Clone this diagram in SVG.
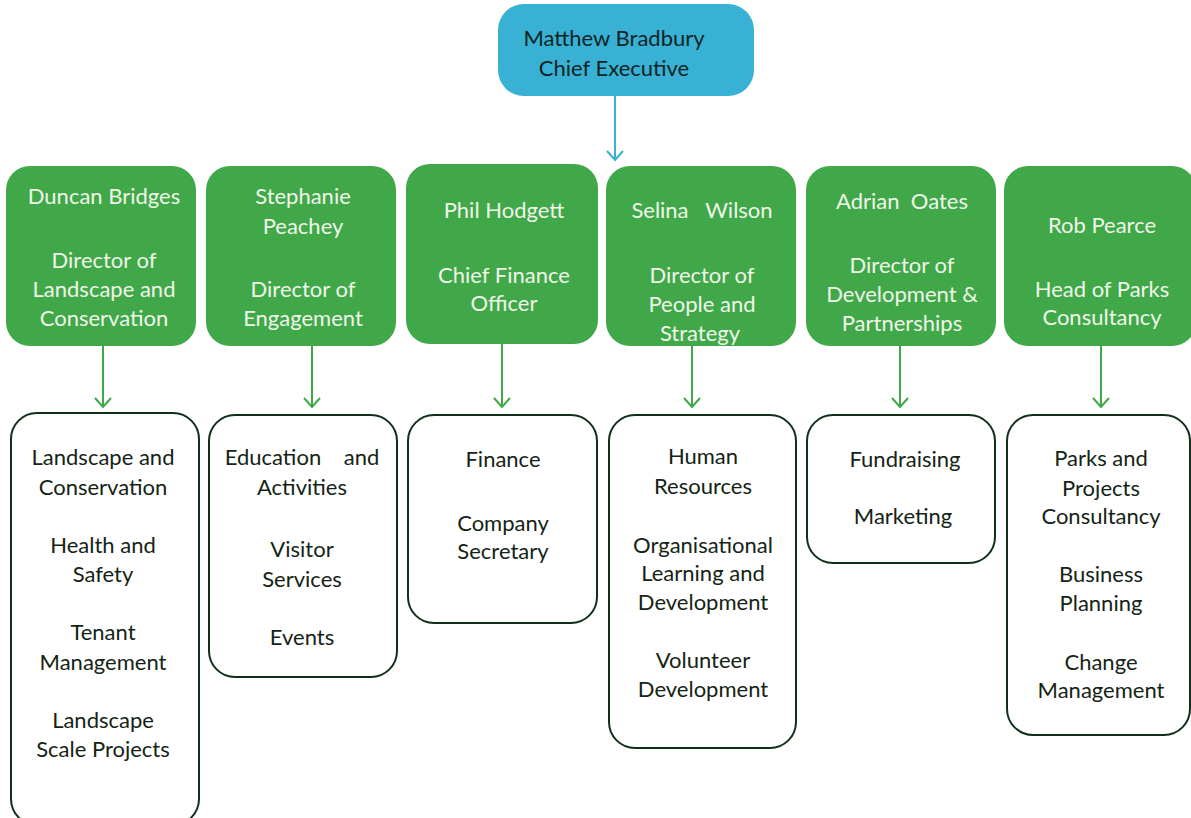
<svg xmlns="http://www.w3.org/2000/svg" width="1191" height="818" viewBox="0 0 1191 818">
<defs>
<style>
.ceo{fill:#38B1D4;}
.dir{fill:#41A84A;}
.unit{fill:#ffffff;stroke:#10301A;stroke-width:2;}
text{font-family:Lato,"Open Sans","Liberation Sans",sans-serif;font-size:22px;text-anchor:middle;}
.dt{fill:#EEF6E8;}
.ct{fill:#0F2424;}
.ut{fill:#142414;}
.gline{stroke:#41A84A;stroke-width:2;fill:none;}
.bline{stroke:#38B1D4;stroke-width:2;fill:none;}
</style>
<marker id="ag" markerWidth="20" markerHeight="12" refX="9" refY="10" markerUnits="userSpaceOnUse" viewBox="0 0 20 12">
<polyline points="1,1 9,10 17,1" fill="none" stroke="#41A84A" stroke-width="2"/>
</marker>
<marker id="ab" markerWidth="20" markerHeight="12" refX="9" refY="10" markerUnits="userSpaceOnUse" viewBox="0 0 20 12">
<polyline points="1,1 9,10 17,1" fill="none" stroke="#38B1D4" stroke-width="2"/>
</marker>
</defs>
<rect width="1191" height="818" fill="#ffffff"/>

<g id="connectors">
<line class="bline" x1="615" y1="96" x2="615" y2="160" marker-end="url(#ab)"/>
<line class="gline" x1="103" y1="346" x2="103" y2="407" marker-end="url(#ag)"/>
<line class="gline" x1="312" y1="346" x2="312" y2="407" marker-end="url(#ag)"/>
<line class="gline" x1="502" y1="344" x2="502" y2="407" marker-end="url(#ag)"/>
<line class="gline" x1="692" y1="346" x2="692" y2="407" marker-end="url(#ag)"/>
<line class="gline" x1="900" y1="346" x2="900" y2="407" marker-end="url(#ag)"/>
<line class="gline" x1="1101" y1="346" x2="1101" y2="407" marker-end="url(#ag)"/>
</g>

<g id="ceo">
<rect class="ceo" x="498" y="4" width="256" height="92" rx="26"/>
<text class="ct" x="614" y="46">Matthew Bradbury</text>
<text class="ct" x="614" y="76">Chief Executive</text>
</g>

<g id="dir-duncan">
<rect class="dir" x="6" y="166" width="190" height="180" rx="24"/>
<text class="dt" x="104" y="204">Duncan Bridges</text>
<text class="dt" x="104" y="268">Director of</text>
<text class="dt" x="104" y="297">Landscape and</text>
<text class="dt" x="104" y="326">Conservation</text>
</g>

<g id="dir-stephanie">
<rect class="dir" x="206" y="166" width="190" height="180" rx="24"/>
<text class="dt" x="303" y="204">Stephanie</text>
<text class="dt" x="303" y="234">Peachey</text>
<text class="dt" x="303" y="297">Director of</text>
<text class="dt" x="303" y="326">Engagement</text>
</g>

<g id="dir-phil">
<rect class="dir" x="406" y="164" width="192" height="180" rx="24"/>
<text class="dt" x="504" y="218">Phil Hodgett</text>
<text class="dt" x="504" y="283">Chief Finance</text>
<text class="dt" x="504" y="311">Officer</text>
</g>

<g id="dir-selina">
<rect class="dir" x="606" y="166" width="190" height="180" rx="24"/>
<text class="dt" x="702" y="218" xml:space="preserve">Selina   Wilson</text>
<text class="dt" x="702" y="283">Director of</text>
<text class="dt" x="702" y="312">People and</text>
<text class="dt" x="700" y="341">Strategy</text>
</g>

<g id="dir-adrian">
<rect class="dir" x="806" y="166" width="190" height="180" rx="24"/>
<text class="dt" x="902" y="209" xml:space="preserve">Adrian  Oates</text>
<text class="dt" x="902" y="273">Director of</text>
<text class="dt" x="902" y="302">Development &amp;</text>
<text class="dt" x="902" y="331">Partnerships</text>
</g>

<g id="dir-rob">
<rect class="dir" x="1004" y="166" width="192" height="180" rx="24"/>
<text class="dt" x="1102" y="233">Rob Pearce</text>
<text class="dt" x="1102" y="297">Head of Parks</text>
<text class="dt" x="1102" y="325">Consultancy</text>
</g>

<g id="unit-landscape">
<rect class="unit" x="11" y="413" width="188" height="412" rx="26"/>
<text class="ut" x="103" y="465">Landscape and</text>
<text class="ut" x="103" y="495">Conservation</text>
<text class="ut" x="103" y="553">Health and</text>
<text class="ut" x="103" y="582">Safety</text>
<text class="ut" x="103" y="640">Tenant</text>
<text class="ut" x="103" y="670">Management</text>
<text class="ut" x="103" y="728">Landscape</text>
<text class="ut" x="103" y="757">Scale Projects</text>
</g>

<g id="unit-engagement">
<rect class="unit" x="209" y="415" width="188" height="262" rx="26"/>
<text class="ut" x="302" y="465" xml:space="preserve">Education    and</text>
<text class="ut" x="302" y="495">Activities</text>
<text class="ut" x="302" y="557">Visitor</text>
<text class="ut" x="302" y="587">Services</text>
<text class="ut" x="302" y="645">Events</text>
</g>

<g id="unit-finance">
<rect class="unit" x="408" y="415" width="189" height="208" rx="26"/>
<text class="ut" x="503" y="467">Finance</text>
<text class="ut" x="503" y="531">Company</text>
<text class="ut" x="503" y="559">Secretary</text>
</g>

<g id="unit-people">
<rect class="unit" x="609" y="415" width="187" height="333" rx="26"/>
<text class="ut" x="703" y="464">Human</text>
<text class="ut" x="703" y="494">Resources</text>
<text class="ut" x="703" y="553">Organisational</text>
<text class="ut" x="703" y="581">Learning and</text>
<text class="ut" x="703" y="610">Development</text>
<text class="ut" x="703" y="668">Volunteer</text>
<text class="ut" x="703" y="697">Development</text>
</g>

<g id="unit-development">
<rect class="unit" x="807" y="415" width="188" height="148" rx="26"/>
<text class="ut" x="905" y="467">Fundraising</text>
<text class="ut" x="903" y="524">Marketing</text>
</g>

<g id="unit-parks">
<rect class="unit" x="1007" y="415" width="183" height="320" rx="26"/>
<text class="ut" x="1101" y="466">Parks and</text>
<text class="ut" x="1101" y="496">Projects</text>
<text class="ut" x="1101" y="524">Consultancy</text>
<text class="ut" x="1101" y="582">Business</text>
<text class="ut" x="1101" y="611">Planning</text>
<text class="ut" x="1101" y="670">Change</text>
<text class="ut" x="1101" y="698">Management</text>
</g>
</svg>
